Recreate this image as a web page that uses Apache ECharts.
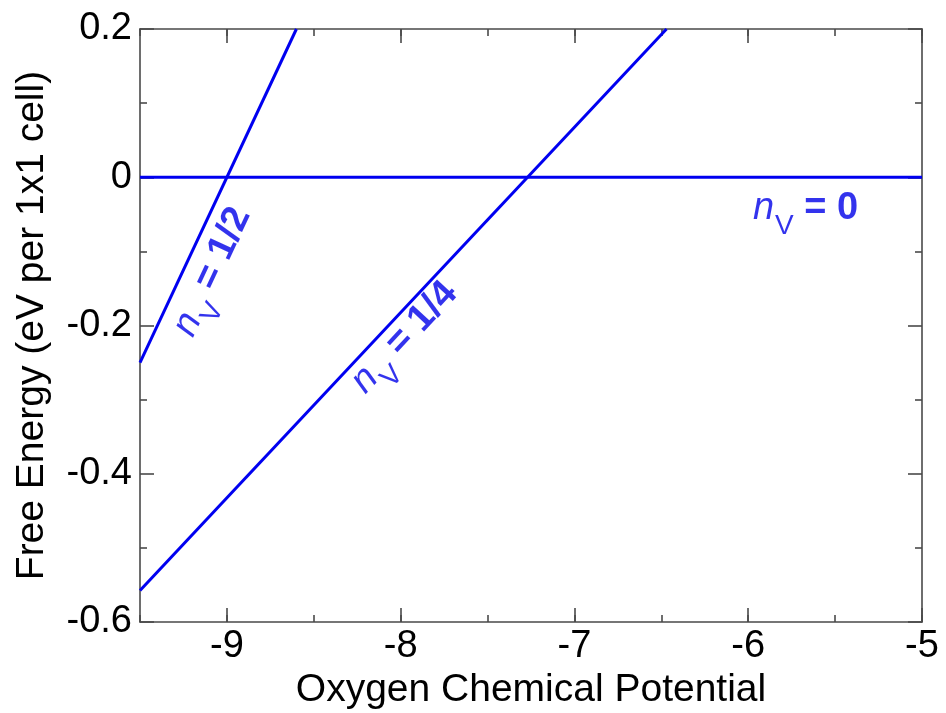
<!DOCTYPE html>
<html>
<head>
<meta charset="utf-8">
<script src="https://cdn.jsdelivr.net/npm/echarts@6/dist/echarts.min.js"></script>
<style>
  html, body { margin: 0; padding: 0; background: #fff; }
  #chart { width: 946px; height: 713px; }
</style>
</head>
<body>
<div id="chart"></div>
<script>
// Free energy vs oxygen chemical potential for three vacancy concentrations
const muRange = [-9.5, -5];
const energyRange = [-0.6, 0.2];
const xMajorTicks = [-9, -8, -7, -6, -5];

const nv0 = [[-9.5, 0], [-5, 0]];
const nvQuarter = [[-9.5, -0.5575], [-6.47, 0.2]];
const nvHalf = [[-9.5, -0.25], [-8.6, 0.2]];

// label anchors (data coords) and text for each line
const labelPoints = [[-5.67, -0.043], [-7.975, -0.217], [-9.08, -0.128]];
const labelFractions = ['0', '1/4', '1/2'];
const labelAngles = [0, 47, 65];

const BLUE = '#0000f0';
const TEXT_BLUE = '#0000e8';
const AXIS = '#4a4a4a';
const FONT = 'Liberation Sans, Arial, Helvetica, sans-serif';

const chart = echarts.init(document.getElementById('chart'), null, { renderer: 'canvas' });

const fmt = v => {
  const r = Math.round(v * 10) / 10;
  return r === 0 ? '0' : String(r);
};

const gridBox = { left: 140, right: 24, top: 29, bottom: 91 };

function minorX(position) {
  return {
    type: 'value', position, min: muRange[0], max: muRange[1], interval: 0.5,
    axisLine: { show: true, onZero: false, lineStyle: { color: AXIS, width: 1.6 } },
    axisTick: { show: true, inside: true, length: 7, lineStyle: { color: AXIS, width: 1.6 } },
    axisLabel: { show: false }, splitLine: { show: false }
  };
}
function majorX(position) {
  return {
    type: 'value', position, min: muRange[0], max: muRange[1], interval: 0.5,
    axisLine: { show: false, onZero: false },
    axisTick: { show: true, inside: true, length: 14, customValues: xMajorTicks, lineStyle: { color: AXIS, width: 1.6 } },
    axisLabel: { show: false }, splitLine: { show: false }
  };
}
function yAx(position, withLabels) {
  return {
    type: 'value', position, min: energyRange[0], max: energyRange[1], interval: 0.2,
    axisLine: { show: true, onZero: false, lineStyle: { color: AXIS, width: 1.6 } },
    axisTick: { show: true, inside: true, length: 14, lineStyle: { color: AXIS, width: 1.6 } },
    minorTick: { show: true, splitNumber: 2, length: 7, lineStyle: { color: AXIS, width: 1.6 } },
    axisLabel: withLabels ? { show: true, formatter: fmt, fontSize: 38, color: '#000', fontFamily: FONT, margin: 8 } : { show: false },
    splitLine: { show: false }
  };
}

const xBottom = minorX('bottom');
xBottom.axisLabel = {
  show: true, fontSize: 38, color: '#000', fontFamily: FONT, margin: 6,
  formatter: v => (Math.abs(v - Math.round(v)) < 1e-9 ? String(Math.round(v)) : '')
};
xBottom.name = 'Oxygen Chemical Potential';
xBottom.nameLocation = 'middle';
xBottom.nameGap = 47;
xBottom.nameTextStyle = { fontSize: 39, color: '#000', fontFamily: FONT };

const yLeft = yAx('left', true);
yLeft.name = 'Free Energy (eV per 1x1 cell)';
yLeft.nameLocation = 'middle';
yLeft.nameGap = 88;
yLeft.nameTextStyle = { fontSize: 39, color: '#000', fontFamily: FONT };

// italic n, lowered upright V subscript, bold "= value"
const rich = {
  n: { fontSize: 38, fontStyle: 'italic', color: TEXT_BLUE, fontFamily: FONT, lineHeight: 40, verticalAlign: 'top' },
  v: { fontSize: 28, color: TEXT_BLUE, fontFamily: FONT, lineHeight: 28, verticalAlign: 'top', padding: [23, 0, 0, 1] },
  b: { fontSize: 38, fontWeight: 'bold', color: TEXT_BLUE, fontFamily: FONT, lineHeight: 40, verticalAlign: 'top' }
};

const lineSeries = (data) => ({
  type: 'line', data, xAxisIndex: 0, yAxisIndex: 0,
  symbol: 'none', silent: true, animation: false,
  lineStyle: { color: BLUE, width: 3 }, z: 3
});

const labelSeries = {
  type: 'scatter', xAxisIndex: 0, yAxisIndex: 0, symbolSize: 0, silent: true, animation: false,
  data: labelPoints.map((p, i) => ({
    value: p,
    label: {
      show: true, position: 'inside', rotate: labelAngles[i],
      align: 'center', verticalAlign: 'middle',
      formatter: '{n|n}{v|V}{b| = ' + labelFractions[i] + '}',
      rich
    }
  })),
  z: 4
};

chart.setOption({
  backgroundColor: '#fff',
  animation: false,
  grid: Object.assign({ containLabel: false, outerBoundsMode: 'none' }, gridBox),
  xAxis: [xBottom, majorX('bottom'), minorX('top'), majorX('top')],
  yAxis: [yLeft, yAx('right', false)],
  series: [lineSeries(nv0), lineSeries(nvQuarter), lineSeries(nvHalf), labelSeries]
});
</script>
</body>
</html>
